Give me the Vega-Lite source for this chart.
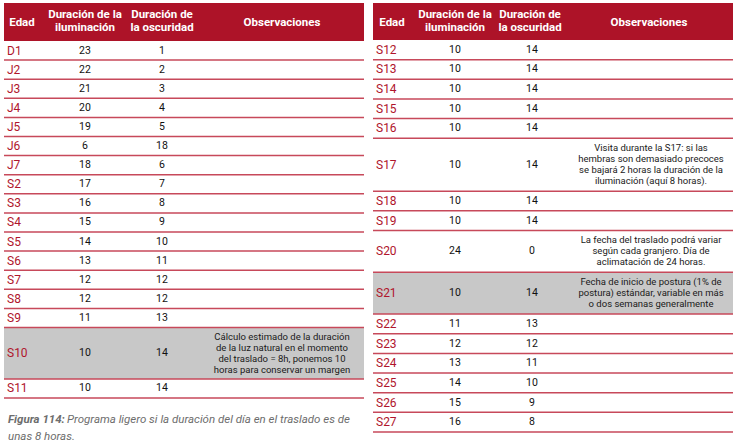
{
  "$schema": "https://vega.github.io/schema/vega-lite/v6.json",
  "padding": {"left": 3, "top": 3, "right": 0, "bottom": 0},
  "background": "white",
  "config": {
    "view": {"stroke": null},
    "font": "Roboto",
    "axis": {"disable": true},
    "concat": {"spacing": 7}
  },
  "datasets": {
    "filas": [
      {"tabla": "izquierda", "edad": "D1", "iluminacion": 23, "oscuridad": 1, "observaciones": [], "gris": false},
      {"tabla": "izquierda", "edad": "J2", "iluminacion": 22, "oscuridad": 2, "observaciones": [], "gris": false},
      {"tabla": "izquierda", "edad": "J3", "iluminacion": 21, "oscuridad": 3, "observaciones": [], "gris": false},
      {"tabla": "izquierda", "edad": "J4", "iluminacion": 20, "oscuridad": 4, "observaciones": [], "gris": false},
      {"tabla": "izquierda", "edad": "J5", "iluminacion": 19, "oscuridad": 5, "observaciones": [], "gris": false},
      {"tabla": "izquierda", "edad": "J6", "iluminacion": 6, "oscuridad": 18, "observaciones": [], "gris": false},
      {"tabla": "izquierda", "edad": "J7", "iluminacion": 18, "oscuridad": 6, "observaciones": [], "gris": false},
      {"tabla": "izquierda", "edad": "S2", "iluminacion": 17, "oscuridad": 7, "observaciones": [], "gris": false},
      {"tabla": "izquierda", "edad": "S3", "iluminacion": 16, "oscuridad": 8, "observaciones": [], "gris": false},
      {"tabla": "izquierda", "edad": "S4", "iluminacion": 15, "oscuridad": 9, "observaciones": [], "gris": false},
      {"tabla": "izquierda", "edad": "S5", "iluminacion": 14, "oscuridad": 10, "observaciones": [], "gris": false},
      {"tabla": "izquierda", "edad": "S6", "iluminacion": 13, "oscuridad": 11, "observaciones": [], "gris": false},
      {"tabla": "izquierda", "edad": "S7", "iluminacion": 12, "oscuridad": 12, "observaciones": [], "gris": false},
      {"tabla": "izquierda", "edad": "S8", "iluminacion": 12, "oscuridad": 12, "observaciones": [], "gris": false},
      {"tabla": "izquierda", "edad": "S9", "iluminacion": 11, "oscuridad": 13, "observaciones": [], "gris": false},
      {"tabla": "izquierda", "edad": "S10", "iluminacion": 10, "oscuridad": 14, "observaciones": ["Cálculo estimado de la duración", "de la luz natural en el momento", "del traslado = 8h, ponemos 10", "horas para conservar un margen"], "gris": true},
      {"tabla": "izquierda", "edad": "S11", "iluminacion": 10, "oscuridad": 14, "observaciones": [], "gris": false},
      {"tabla": "derecha", "edad": "S12", "iluminacion": 10, "oscuridad": 14, "observaciones": [], "gris": false},
      {"tabla": "derecha", "edad": "S13", "iluminacion": 10, "oscuridad": 14, "observaciones": [], "gris": false},
      {"tabla": "derecha", "edad": "S14", "iluminacion": 10, "oscuridad": 14, "observaciones": [], "gris": false},
      {"tabla": "derecha", "edad": "S15", "iluminacion": 10, "oscuridad": 14, "observaciones": [], "gris": false},
      {"tabla": "derecha", "edad": "S16", "iluminacion": 10, "oscuridad": 14, "observaciones": [], "gris": false},
      {"tabla": "derecha", "edad": "S17", "iluminacion": 10, "oscuridad": 14, "observaciones": ["Visita durante la S17: si las", "hembras son demasiado precoces", "se bajará 2 horas la duración de la", "iluminación (aquí 8 horas)."], "gris": false},
      {"tabla": "derecha", "edad": "S18", "iluminacion": 10, "oscuridad": 14, "observaciones": [], "gris": false},
      {"tabla": "derecha", "edad": "S19", "iluminacion": 10, "oscuridad": 14, "observaciones": [], "gris": false},
      {"tabla": "derecha", "edad": "S20", "iluminacion": 24, "oscuridad": 0, "observaciones": ["La fecha del traslado podrá variar", "según cada granjero. Día de", "aclimatación de 24 horas."], "gris": false},
      {"tabla": "derecha", "edad": "S21", "iluminacion": 10, "oscuridad": 14, "observaciones": ["Fecha de inicio de postura (1% de", "postura) estándar, variable en más", "o dos semanas generalmente"], "gris": true},
      {"tabla": "derecha", "edad": "S22", "iluminacion": 11, "oscuridad": 13, "observaciones": [], "gris": false},
      {"tabla": "derecha", "edad": "S23", "iluminacion": 12, "oscuridad": 12, "observaciones": [], "gris": false},
      {"tabla": "derecha", "edad": "S24", "iluminacion": 13, "oscuridad": 11, "observaciones": [], "gris": false},
      {"tabla": "derecha", "edad": "S25", "iluminacion": 14, "oscuridad": 10, "observaciones": [], "gris": false},
      {"tabla": "derecha", "edad": "S26", "iluminacion": 15, "oscuridad": 9, "observaciones": [], "gris": false},
      {"tabla": "derecha", "edad": "S27", "iluminacion": 16, "oscuridad": 8, "observaciones": [], "gris": false}
    ],
    "pie": [
      {"linea": 1, "parte": "rotulo", "texto": "Figura 114:"},
      {"linea": 1, "parte": "cuerpo", "texto": "Programa ligero si la duración del día en el traslado es de"},
      {"linea": 2, "parte": "cuerpo", "texto": "unas 8 horas."}
    ]
  },
  "hconcat": [
    {
      "width": 360,
      "height": 395,
      "data": {"name": "filas"},
      "transform": [
        {"filter": "datum.tabla == 'izquierda'"},
        {"calculate": "max(1, length(datum.observaciones))", "as": "lineas"},
        {"calculate": "11 * datum.lineas + 8.5", "as": "alto"},
        {"window": [{"op": "sum", "field": "alto", "as": "fin"}]},
        {"calculate": "datum.fin - datum.alto", "as": "inicio"},
        {"calculate": "(datum.inicio + datum.fin) / 2", "as": "centro"},
        {"calculate": "datum.centro - (datum.lineas - 1) * 5.6", "as": "centro_texto"}
      ],
      "layer": [
        {
          "transform": [{"filter": "datum.gris"}],
          "mark": {"type": "rect", "color": "#c8c8c8"},
          "encoding": {
            "x": {"datum": 0, "type": "quantitative", "scale": {"domain": [0, 360], "nice": false, "zero": false}},
            "x2": {"datum": 360},
            "y": {"field": "inicio", "type": "quantitative", "scale": {"domain": [-38.8, 364.5], "reverse": true, "nice": false, "zero": false}},
            "y2": {"field": "fin"}
          }
        },
        {
          "data": {"values": [{}]},
          "mark": {"type": "rect", "color": "#ad1328"},
          "encoding": {
            "x": {"datum": 0, "type": "quantitative"},
            "x2": {"datum": 360},
            "y": {"datum": -38.8, "type": "quantitative"},
            "y2": {"datum": 0}
          }
        },
        {
          "mark": {"type": "rule", "color": "#c7495a", "strokeWidth": 1.5},
          "encoding": {
            "x": {"datum": 0, "type": "quantitative"},
            "x2": {"datum": 360},
            "y": {"field": "fin", "type": "quantitative"}
          }
        },
        {
          "mark": {"type": "text", "align": "left", "baseline": "middle", "fontSize": 12, "color": "#b0152c"},
          "encoding": {
            "x": {"datum": 3, "type": "quantitative"},
            "y": {"field": "centro", "type": "quantitative"},
            "text": {"field": "edad"}
          }
        },
        {
          "mark": {"type": "text", "align": "center", "baseline": "middle", "fontSize": 10.5, "color": "#111111"},
          "encoding": {
            "x": {"datum": 81, "type": "quantitative"},
            "y": {"field": "centro", "type": "quantitative"},
            "text": {"field": "iluminacion"}
          }
        },
        {
          "mark": {"type": "text", "align": "center", "baseline": "middle", "fontSize": 10.5, "color": "#111111"},
          "encoding": {
            "x": {"datum": 158, "type": "quantitative"},
            "y": {"field": "centro", "type": "quantitative"},
            "text": {"field": "oscuridad"}
          }
        },
        {
          "mark": {"type": "text", "align": "center", "baseline": "middle", "fontSize": 9.5, "lineHeight": 11, "color": "#1a1a1a"},
          "encoding": {
            "x": {"datum": 278, "type": "quantitative"},
            "y": {"field": "centro_texto", "type": "quantitative"},
            "text": {"field": "observaciones"}
          }
        },
        {
          "data": {"values": [{}]},
          "mark": {"type": "text", "align": "center", "baseline": "middle", "fontSize": 11.5, "fontWeight": "bold", "color": "white"},
          "encoding": {
            "x": {"datum": 18, "type": "quantitative"},
            "y": {"datum": -17.9, "type": "quantitative"},
            "text": {"value": "Edad"}
          }
        },
        {
          "data": {"values": [{}]},
          "mark": {"type": "text", "align": "center", "baseline": "middle", "fontSize": 11.5, "fontWeight": "bold", "color": "white", "lineHeight": 13},
          "encoding": {
            "x": {"datum": 81, "type": "quantitative"},
            "y": {"datum": -26.3, "type": "quantitative"},
            "text": {"value": ["Duración de la", "iluminación"]}
          }
        },
        {
          "data": {"values": [{}]},
          "mark": {"type": "text", "align": "center", "baseline": "middle", "fontSize": 11.5, "fontWeight": "bold", "color": "white", "lineHeight": 13},
          "encoding": {
            "x": {"datum": 158, "type": "quantitative"},
            "y": {"datum": -26.3, "type": "quantitative"},
            "text": {"value": ["Duración de", "la oscuridad"]}
          }
        },
        {
          "data": {"values": [{}]},
          "mark": {"type": "text", "align": "center", "baseline": "middle", "fontSize": 11.5, "fontWeight": "bold", "color": "white"},
          "encoding": {
            "x": {"datum": 278, "type": "quantitative"},
            "y": {"datum": -18.4, "type": "quantitative"},
            "text": {"value": "Observaciones"}
          }
        },
        {
          "data": {"name": "pie"},
          "transform": [{"filter": "datum.parte == 'rotulo'"}],
          "mark": {"type": "text", "align": "left", "baseline": "middle", "fontSize": 11.5, "fontStyle": "italic", "fontWeight": "bold", "color": "#6d6d6d"},
          "encoding": {
            "x": {"datum": 4, "type": "quantitative"},
            "y": {"datum": 387, "type": "quantitative"},
            "text": {"field": "texto"}
          }
        },
        {
          "data": {"name": "pie"},
          "transform": [{"filter": "datum.parte == 'cuerpo' && datum.linea == 1"}],
          "mark": {"type": "text", "align": "left", "baseline": "middle", "fontSize": 11.5, "fontStyle": "italic", "color": "#6d6d6d"},
          "encoding": {
            "x": {"datum": 63, "type": "quantitative"},
            "y": {"datum": 387, "type": "quantitative"},
            "text": {"field": "texto"}
          }
        },
        {
          "data": {"name": "pie"},
          "transform": [{"filter": "datum.linea == 2"}],
          "mark": {"type": "text", "align": "left", "baseline": "middle", "fontSize": 11.5, "fontStyle": "italic", "color": "#6d6d6d"},
          "encoding": {
            "x": {"datum": 4, "type": "quantitative"},
            "y": {"datum": 404.5, "type": "quantitative"},
            "text": {"field": "texto"}
          }
        }
      ]
    },
    {
      "width": 360,
      "height": 429,
      "data": {"name": "filas"},
      "transform": [
        {"filter": "datum.tabla == 'derecha'"},
        {"calculate": "max(1, length(datum.observaciones))", "as": "lineas"},
        {"calculate": "11 * datum.lineas + 8.5", "as": "alto"},
        {"window": [{"op": "sum", "field": "alto", "as": "fin"}]},
        {"calculate": "datum.fin - datum.alto", "as": "inicio"},
        {"calculate": "(datum.inicio + datum.fin) / 2", "as": "centro"},
        {"calculate": "datum.centro - (datum.lineas - 1) * 5.45", "as": "centro_texto"}
      ],
      "layer": [
        {
          "transform": [{"filter": "datum.gris"}],
          "mark": {"type": "rect", "color": "#c8c8c8"},
          "encoding": {
            "x": {"datum": 0, "type": "quantitative", "scale": {"domain": [0, 360], "nice": false, "zero": false}},
            "x2": {"datum": 360},
            "y": {"field": "inicio", "type": "quantitative", "scale": {"domain": [-36.7, 389], "reverse": true, "nice": false, "zero": false}},
            "y2": {"field": "fin"}
          }
        },
        {
          "data": {"values": [{}]},
          "mark": {"type": "rect", "color": "#ad1328"},
          "encoding": {
            "x": {"datum": 0, "type": "quantitative"},
            "x2": {"datum": 360},
            "y": {"datum": -36.7, "type": "quantitative"},
            "y2": {"datum": 0}
          }
        },
        {
          "mark": {"type": "rule", "color": "#c7495a", "strokeWidth": 1.5},
          "encoding": {
            "x": {"datum": 0, "type": "quantitative"},
            "x2": {"datum": 360},
            "y": {"field": "fin", "type": "quantitative"}
          }
        },
        {
          "mark": {"type": "text", "align": "left", "baseline": "middle", "fontSize": 12, "color": "#b0152c"},
          "encoding": {
            "x": {"datum": 3, "type": "quantitative"},
            "y": {"field": "centro", "type": "quantitative"},
            "text": {"field": "edad"}
          }
        },
        {
          "mark": {"type": "text", "align": "center", "baseline": "middle", "fontSize": 10.5, "color": "#111111"},
          "encoding": {
            "x": {"datum": 82, "type": "quantitative"},
            "y": {"field": "centro", "type": "quantitative"},
            "text": {"field": "iluminacion"}
          }
        },
        {
          "mark": {"type": "text", "align": "center", "baseline": "middle", "fontSize": 10.5, "color": "#111111"},
          "encoding": {
            "x": {"datum": 159, "type": "quantitative"},
            "y": {"field": "centro", "type": "quantitative"},
            "text": {"field": "oscuridad"}
          }
        },
        {
          "mark": {"type": "text", "align": "center", "baseline": "middle", "fontSize": 9.5, "lineHeight": 11, "color": "#1a1a1a"},
          "encoding": {
            "x": {"datum": 278, "type": "quantitative"},
            "y": {"field": "centro_texto", "type": "quantitative"},
            "text": {"field": "observaciones"}
          }
        },
        {
          "data": {"values": [{}]},
          "mark": {"type": "text", "align": "center", "baseline": "middle", "fontSize": 11.5, "fontWeight": "bold", "color": "white"},
          "encoding": {
            "x": {"datum": 19, "type": "quantitative"},
            "y": {"datum": -16.4, "type": "quantitative"},
            "text": {"value": "Edad"}
          }
        },
        {
          "data": {"values": [{}]},
          "mark": {"type": "text", "align": "center", "baseline": "middle", "fontSize": 11.5, "fontWeight": "bold", "color": "white", "lineHeight": 13},
          "encoding": {
            "x": {"datum": 82, "type": "quantitative"},
            "y": {"datum": -24.5, "type": "quantitative"},
            "text": {"value": ["Duración de la", "iluminación"]}
          }
        },
        {
          "data": {"values": [{}]},
          "mark": {"type": "text", "align": "center", "baseline": "middle", "fontSize": 11.5, "fontWeight": "bold", "color": "white", "lineHeight": 13},
          "encoding": {
            "x": {"datum": 157, "type": "quantitative"},
            "y": {"datum": -24.5, "type": "quantitative"},
            "text": {"value": ["Duración de", "la oscuridad"]}
          }
        },
        {
          "data": {"values": [{}]},
          "mark": {"type": "text", "align": "center", "baseline": "middle", "fontSize": 11.5, "fontWeight": "bold", "color": "white"},
          "encoding": {
            "x": {"datum": 276, "type": "quantitative"},
            "y": {"datum": -16.9, "type": "quantitative"},
            "text": {"value": "Observaciones"}
          }
        }
      ]
    }
  ]
}
